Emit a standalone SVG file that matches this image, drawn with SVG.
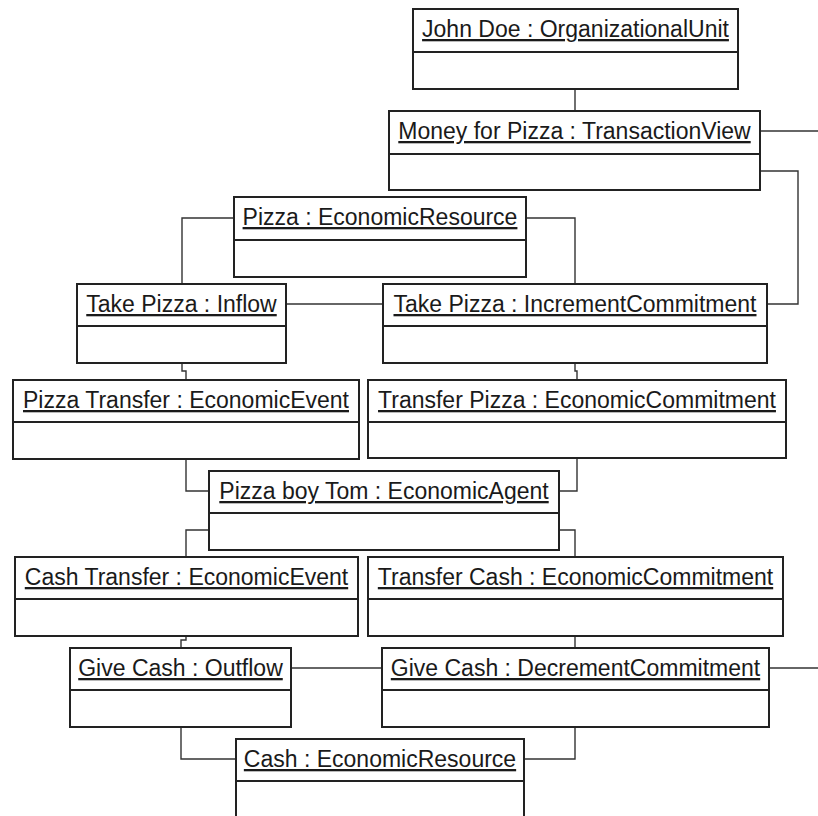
<svg xmlns="http://www.w3.org/2000/svg" width="818" height="816" viewBox="0 0 818 816">
<style>
.box{fill:#fff;stroke:#222;stroke-width:2}
.div{stroke:#222;stroke-width:2}
.t{font-family:"Liberation Sans",Arial,sans-serif;font-size:23px;fill:#1a1a1a;text-anchor:middle;text-decoration:underline}
.c{fill:none;stroke:#333;stroke-width:1.4}
</style>
<rect width="818" height="816" fill="#fff"/>
<g id="connectors">
<path class="c" d="M575,89 V111"/>
<path class="c" d="M760,131 H818"/>
<path class="c" d="M760,171 H798 V304 H767"/>
<path class="c" d="M234,218 H182 V284"/>
<path class="c" d="M526,218 H575 V284"/>
<path class="c" d="M286,304 H383"/>
<path class="c" d="M182,363 V371 H186 V380"/>
<path class="c" d="M575,363 V371 H577 V380"/>
<path class="c" d="M186,459 V491 H209"/>
<path class="c" d="M577,458 V491 H559"/>
<path class="c" d="M209,530 H186 V557"/>
<path class="c" d="M559,530 H575 V557"/>
<path class="c" d="M186,636 V640 H181 V648"/>
<path class="c" d="M575,636 V648"/>
<path class="c" d="M291,668 H382"/>
<path class="c" d="M769,668 H818"/>
<path class="c" d="M181,727 V759 H236"/>
<path class="c" d="M575,727 V759 H524"/>
</g>
<g id="johnDoe"><rect class="box" x="413" y="9" width="325" height="80"/><line class="div" x1="413" y1="52" x2="738" y2="52"/><text class="t" x="575.5" y="37">John Doe : OrganizationalUnit</text></g>
<g id="moneyForPizza"><rect class="box" x="389" y="111" width="371" height="79"/><line class="div" x1="389" y1="154" x2="760" y2="154"/><text class="t" x="574.5" y="139">Money for Pizza : TransactionView</text></g>
<g id="pizzaResource"><rect class="box" x="234" y="197" width="292" height="80"/><line class="div" x1="234" y1="240" x2="526" y2="240"/><text class="t" x="380" y="225">Pizza : EconomicResource</text></g>
<g id="takePizzaInflow"><rect class="box" x="77" y="284" width="209" height="79"/><line class="div" x1="77" y1="326" x2="286" y2="326"/><text class="t" x="181.5" y="312">Take Pizza : Inflow</text></g>
<g id="takePizzaIncrement"><rect class="box" x="383" y="284" width="384" height="79"/><line class="div" x1="383" y1="326" x2="767" y2="326"/><text class="t" x="575" y="312">Take Pizza : IncrementCommitment</text></g>
<g id="pizzaTransfer"><rect class="box" x="13" y="380" width="346" height="79"/><line class="div" x1="13" y1="422" x2="359" y2="422"/><text class="t" x="186" y="408">Pizza Transfer : EconomicEvent</text></g>
<g id="transferPizza"><rect class="box" x="368" y="380" width="418" height="78"/><line class="div" x1="368" y1="422" x2="786" y2="422"/><text class="t" x="577" y="408">Transfer Pizza : EconomicCommitment</text></g>
<g id="pizzaBoyTom"><rect class="box" x="209" y="471" width="350" height="79"/><line class="div" x1="209" y1="513" x2="559" y2="513"/><text class="t" x="384" y="499">Pizza boy Tom : EconomicAgent</text></g>
<g id="cashTransfer"><rect class="box" x="15" y="557" width="343" height="79"/><line class="div" x1="15" y1="599" x2="358" y2="599"/><text class="t" x="186.5" y="585">Cash Transfer : EconomicEvent</text></g>
<g id="transferCash"><rect class="box" x="368" y="557" width="415" height="79"/><line class="div" x1="368" y1="599" x2="783" y2="599"/><text class="t" x="575.5" y="585">Transfer Cash : EconomicCommitment</text></g>
<g id="giveCashOutflow"><rect class="box" x="70" y="648" width="221" height="79"/><line class="div" x1="70" y1="690" x2="291" y2="690"/><text class="t" x="180.5" y="676">Give Cash : Outflow</text></g>
<g id="giveCashDecrement"><rect class="box" x="382" y="648" width="387" height="79"/><line class="div" x1="382" y1="690" x2="769" y2="690"/><text class="t" x="575.5" y="676">Give Cash : DecrementCommitment</text></g>
<g id="cashResource"><rect class="box" x="236" y="739" width="288" height="84"/><line class="div" x1="236" y1="781" x2="524" y2="781"/><text class="t" x="380" y="767">Cash : EconomicResource</text></g>
</svg>
